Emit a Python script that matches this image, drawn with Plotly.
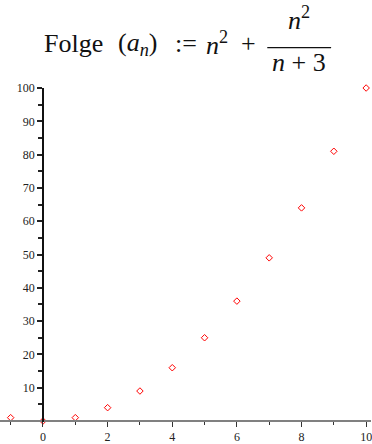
import plotly.graph_objects as go

# sequence terms a_n for n = -1 .. 10
n_values = [-1, 0, 1, 2, 3, 4, 5, 6, 7, 8, 9, 10]
a_values = [1, 0, 1, 4, 9, 16, 25, 36, 49, 64, 81, 100]

x_major = [0, 2, 4, 6, 8, 10]
x_minor = [-1, 1, 3, 5, 7, 9]
y_major = [10, 20, 30, 40, 50, 60, 70, 80, 90, 100]
y_minor = [5, 15, 25, 35, 45, 55, 65, 75, 85, 95]

W, H = 372, 444
TOP, BOTTOM = 88, 16
x_range = [-1.33, 10.15]
y_range = [-0.3, 100]

SERIF = "Liberation Serif"

fig = go.Figure(
    go.Scatter(
        x=n_values, y=a_values, mode="markers",
        marker=dict(symbol="diamond-open", size=5, color="red",
                    line=dict(width=1, color="red")),
        cliponaxis=False, showlegend=False, hoverinfo="skip",
    )
)

def py(pix):
    """pixel row -> paper y"""
    return (H - BOTTOM - pix) / (H - TOP - BOTTOM)

def px(pix):
    return pix / W

tick_font = dict(family=SERIF, size=12, color="#222")

fig.update_layout(
    width=W, height=H, margin=dict(l=0, r=0, t=TOP, b=BOTTOM),
    paper_bgcolor="white", plot_bgcolor="white", hovermode=False,
    xaxis=dict(
        range=x_range, tickmode="array", tickvals=x_major,
        ticks="outside", ticklen=5, tickwidth=1, tickcolor="#333",
        minor=dict(tickmode="array", tickvals=x_minor, ticks="outside",
                   ticklen=3, tickwidth=1, tickcolor="#333"),
        showline=True, linecolor="#808080", linewidth=2,
        showgrid=False, zeroline=False, ticklabeloverflow="allow",
        anchor="free", position=(0 - y_range[0]) / (y_range[1] - y_range[0]),
        tickfont=tick_font,
    ),
    yaxis=dict(
        range=y_range, tickmode="array", tickvals=y_major,
        ticks="outside", ticklen=5, tickwidth=1.5, tickcolor="#222",
        minor=dict(tickmode="array", tickvals=y_minor, ticks="outside",
                   ticklen=4, tickwidth=1.5, tickcolor="#222"),
        showline=True, linecolor="#111", linewidth=1.5,
        showgrid=False, zeroline=False, ticklabeloverflow="allow",
        anchor="free", position=(0 - x_range[0]) / (x_range[1] - x_range[0]),
        tickfont=tick_font,
    ),
)

title_font = dict(family=SERIF, size=26, color="#111")

# formula pieces on the main line: (centre px, text)
formula_main = [
    (74, "Folge"),
    (138, "(<i>a</i><sub><i>n</i></sub>)"),
    (186, ":="),
    (218, "<i>n</i><sup>2</sup>"),
    (249, "+"),
]
for centre, txt in formula_main:
    fig.add_annotation(
        xref="paper", yref="paper", x=px(centre), y=py(43),
        xanchor="center", yanchor="middle", showarrow=False,
        text=txt, font=title_font,
    )

# fraction: numerator, bar, denominator
fig.add_annotation(
    xref="paper", yref="paper", x=px(300), y=py(36),
    xanchor="center", yanchor="bottom", showarrow=False,
    text="<i>n</i><sup>2</sup>", font=title_font,
)
fig.add_shape(
    type="line", xref="paper", yref="paper",
    x0=px(268), x1=px(332), y0=py(47), y1=py(47),
    line=dict(color="#111", width=1.2),
)
fig.add_annotation(
    xref="paper", yref="paper", x=px(300), y=py(45),
    xanchor="center", yanchor="top", showarrow=False,
    text="<i>n</i> + 3", font=title_font,
)

fig.write_html("out.html")
